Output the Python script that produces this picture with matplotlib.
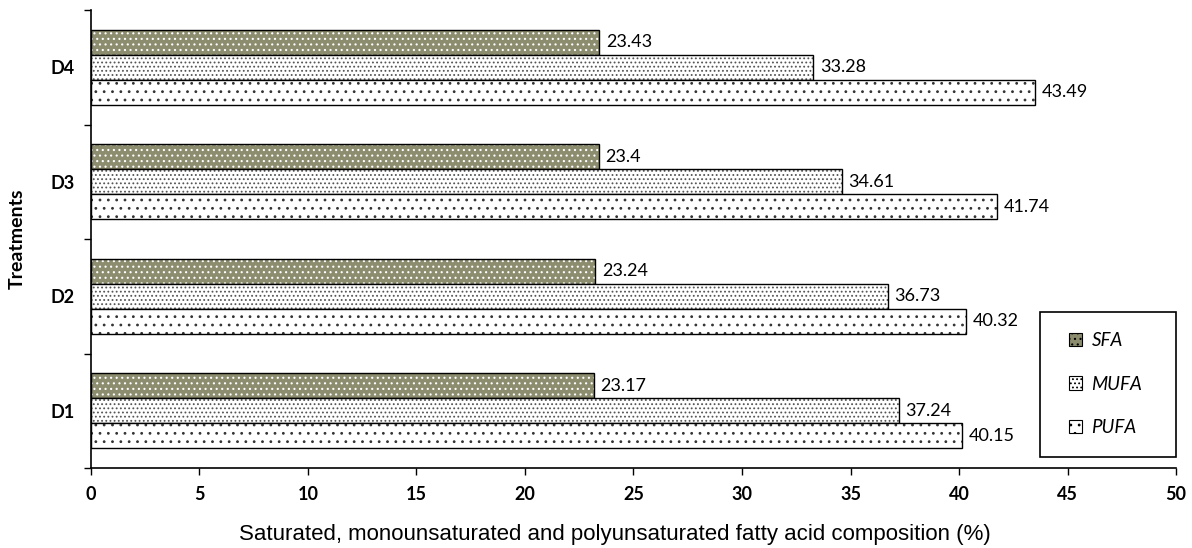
import matplotlib
matplotlib.use("Agg")
import matplotlib.pyplot as plt
from matplotlib.patches import Patch, Rectangle
import numpy as np

treatments = ["D1", "D2", "D3", "D4"]
sfa = [23.17, 23.24, 23.4, 23.43]
mufa = [37.24, 36.73, 34.61, 33.28]
pufa = [40.15, 40.32, 41.74, 43.49]
series_names = ["SFA", "MUFA", "PUFA"]
x_ticks = [0, 5, 10, 15, 20, 25, 30, 35, 40, 45, 50]

fig = plt.figure(figsize=(11.92, 5.48), dpi=100)
ax = fig.add_axes([0.0763, 0.146, 0.9103, 0.8355])

y = np.arange(len(treatments))
h = 0.218
offsets = [h, 0, -h]
styles = [
    dict(face="#8c8c6e", hatch="...", hcolor="white"),
    dict(face="white", hatch="....", hcolor="#555555"),
    dict(face="white", hatch="..", hcolor="#333333"),
]
plt.rcParams['hatch.linewidth'] = 0.8
handles = []
for vals, off, st, name in zip([sfa, mufa, pufa], offsets, styles, series_names):
    ax.barh(y + off, vals, height=h, color=st["face"], hatch=st["hatch"],
            edgecolor=st["hcolor"], linewidth=0)
    ax.barh(y + off, vals, height=h, facecolor="none",
            edgecolor="black", linewidth=1.0)
    for yy, v in zip(y + off, vals):
        ax.text(v + 0.3, yy, f"{v:g}", va="center", ha="left",
                fontsize=13, family="Lato")
    handles.append(Patch(facecolor=st["face"], hatch=st["hatch"],
                         edgecolor="black", linewidth=0.8, label=name))

ax.set_xlim(0, 50)
ax.set_ylim(-0.5, 3.5)
ax.set_xticks(x_ticks)
ax.set_xticklabels([str(t) for t in x_ticks], fontweight="bold",
                   family="Lato", fontsize=13)
ax.set_yticks(y)
ax.set_yticklabels(treatments, fontweight="bold", family="Lato", fontsize=13)
ax.tick_params(axis="y", which="major", length=0, pad=12)
ax.set_yticks(np.arange(-0.5, 3.6, 1.0), minor=True)
ax.tick_params(axis="y", which="minor", length=5, width=1)
ax.tick_params(axis="x", which="major", length=5, width=1, pad=8)
ax.spines["top"].set_visible(False)
ax.spines["right"].set_visible(False)
ax.spines["left"].set_linewidth(1.2)
ax.spines["bottom"].set_linewidth(1.2)

ax.set_xlabel("Saturated, monounsaturated and polyunsaturated fatty acid composition (%)",
              family="Liberation Sans", fontsize=16)
ax.xaxis.set_label_coords(0.483, -0.122)
ax.set_ylabel("Treatments", fontweight="bold", family="Lato", fontsize=14)
ax.yaxis.set_label_coords(-0.06, 0.5)

# legend frame
ax.add_patch(Rectangle((0.8747, 0.024), 1.0 - 0.8747, 0.3406 - 0.024,
                       transform=ax.transAxes, facecolor="white",
                       edgecolor="black", linewidth=1.2, zorder=4, clip_on=False))
leg = ax.legend(handles=handles, loc="center left", bbox_to_anchor=(0.9014, 0.1834),
                frameon=False,
                prop=dict(family="Lato", style="italic", size=13.5),
                handlelength=0.7, handleheight=0.7, handletextpad=0.5,
                labelspacing=1.4, borderpad=0, borderaxespad=0)
leg.set_zorder(5)

fig.savefig("out.png", dpi=100)
